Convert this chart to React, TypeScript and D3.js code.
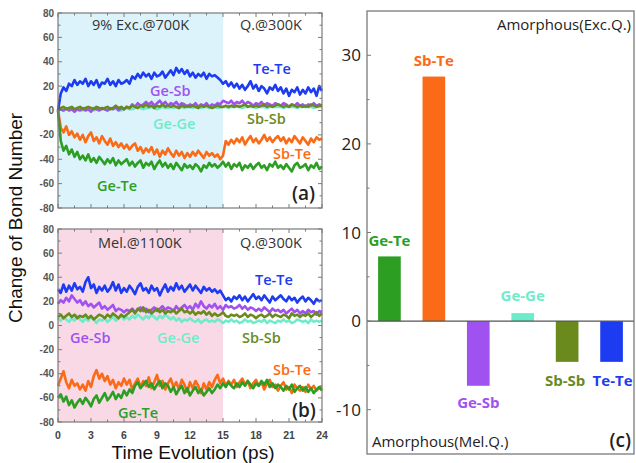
import React from "react";
import * as d3 from "d3";

const timeStep = 0.25;
const xTicks = [0, 3, 6, 9, 12, 15, 18, 21, 24];
const yTicksAB = [80, 60, 40, 20, 0, -20, -40, -60, -80];
const yTicksC = [30, 20, 10, 0, -10];

// Panel (a): 9% Exc.@700K then Q.@300K
const aTeTe = [0, 14, 19, 16, 22, 20, 25, 21, 24, 22, 26, 20, 24, 21, 25, 19, 23, 22, 26, 21, 24, 20, 25, 22, 23, 25, 22, 28, 26, 30, 27, 31, 28, 30, 26, 31, 28, 29, 32, 27, 30, 33, 29, 35, 31, 34, 30, 33, 28, 31, 27, 30, 28, 31, 26, 30, 28, 29, 27, 25, 22, 24, 20, 23, 19, 22, 18, 21, 17, 20, 24, 18, 21, 16, 20, 18, 14, 19, 17, 21, 16, 19, 14, 18, 12, 17, 15, 19, 13, 17, 14, 19, 15, 18, 12, 20, 16];
const aGeSb = [0, 1, 0, 2, 0, 1, -1, 1, 0, 2, 0, 1, -1, 2, 1, 0, 2, 1, 0, 2, 1, 3, 0, 2, 1, 3, 2, 5, 3, 6, 4, 5, 7, 5, 7, 4, 6, 8, 5, 7, 4, 6, 5, 7, 4, 6, 5, 3, 5, 4, 6, 3, 5, 4, 6, 3, 5, 4, 6, 5, 8, 7, 6, 8, 5, 7, 6, 8, 5, 7, 6, 4, 6, 5, 7, 4, 6, 5, 4, 6, 5, 4, 6, 5, 3, 5, 4, 6, 4, 5, 3, 5, 4, 6, 4, 5, 4];
const aSbSb = [0, 2, 3, 1, 2, 3, 1, 2, 3, 1, 2, 3, 2, 1, 3, 2, 1, 2, 3, 1, 2, 4, 2, 3, 1, 3, 2, 4, 3, 2, 4, 3, 5, 3, 4, 2, 4, 3, 5, 3, 4, 3, 4, 3, 2, 4, 3, 4, 3, 4, 3, 2, 4, 3, 4, 3, 2, 3, 4, 3, 3, 4, 3, 4, 3, 4, 3, 4, 5, 3, 4, 3, 4, 3, 4, 5, 3, 4, 3, 4, 5, 4, 3, 4, 3, 5, 4, 3, 4, 3, 4, 3, 5, 4, 3, 4, 4];
const aGeGe = [0, 1, 0, 1, 2, 1, 0, 1, 1, 0, 1, 2, 1, 0, 1, 1, 2, 1, 0, 1, 2, 1, 1, 0, 1, 2, 1, 1, 2, 3, 2, 1, 2, 2, 3, 2, 1, 2, 3, 2, 2, 3, 2, 3, 2, 3, 2, 3, 3, 2, 3, 3, 2, 3, 3, 2, 3, 3, 2, 3, 3, 3, 2, 3, 3, 3, 3, 2, 3, 3, 3, 3, 2, 3, 3, 3, 2, 3, 3, 3, 3, 3, 2, 3, 3, 3, 3, 2, 3, 3, 3, 3, 3, 2, 3, 3, 3];
const aSbTe = [0, -14, -18, -13, -20, -17, -22, -19, -24, -20, -26, -21, -18, -25, -22, -27, -21, -25, -28, -23, -29, -26, -30, -27, -31, -28, -32, -29, -27, -33, -30, -35, -31, -34, -30, -36, -32, -38, -33, -36, -31, -35, -38, -33, -37, -34, -39, -35, -38, -34, -37, -33, -36, -39, -34, -37, -35, -38, -36, -40, -37, -25, -28, -24, -27, -23, -26, -22, -28, -24, -21, -26, -23, -27, -24, -20, -25, -22, -26, -23, -21, -25, -22, -27, -23, -26, -21, -24, -27, -22, -25, -28, -23, -26, -22, -24, -23];
const aGeTe = [0, -25, -33, -29, -36, -32, -38, -34, -40, -37, -41, -36, -42, -39, -43, -38, -41, -44, -40, -43, -39, -45, -41, -44, -42, -40, -45, -42, -46, -43, -41, -47, -43, -45, -42, -48, -44, -41, -46, -43, -47, -44, -48, -43, -46, -49, -44, -47, -45, -48, -44, -46, -50, -45, -47, -43, -46, -44, -47, -45, -42, -46, -43, -48, -44, -46, -43, -49, -45, -47, -44, -48, -45, -43, -47, -45, -49, -44, -46, -42, -47, -45, -48, -44, -47, -50, -45, -43, -47, -46, -44, -49, -45, -47, -43, -48, -46];

// Panel (b): Mel.@1100K then Q.@300K
const bTeTe = [30, 27, 34, 28, 33, 29, 35, 30, 32, 28, 36, 40, 31, 34, 27, 32, 29, 33, 28, 31, 36, 29, 34, 27, 31, 28, 33, 30, 26, 32, 35, 29, 31, 27, 33, 29, 31, 25, 30, 34, 28, 32, 29, 35, 30, 33, 28, 31, 34, 29, 33, 30, 27, 32, 29, 31, 28, 30, 27, 29, 25, 21, 23, 20, 24, 22, 25, 21, 24, 20, 23, 26, 22, 24, 21, 25, 22, 19, 24, 21, 23, 25, 22, 20, 24, 21, 23, 19, 22, 24, 20, 23, 21, 18, 22, 20, 21];
const bGeSb = [18, 21, 19, 23, 20, 25, 22, 19, 21, 17, 20, 16, 18, 15, 17, 19, 14, 16, 13, 15, 17, 12, 14, 13, 11, 13, 12, 14, 11, 13, 15, 12, 14, 11, 13, 15, 12, 14, 16, 13, 15, 14, 12, 16, 13, 15, 17, 14, 16, 13, 18, 15, 20, 16, 14, 17, 15, 18, 14, 16, 13, 17, 15, 16, 14, 15, 17, 14, 16, 13, 15, 14, 12, 14, 12, 15, 13, 11, 14, 12, 13, 11, 13, 10, 12, 14, 11, 13, 10, 12, 10, 13, 11, 12, 9, 12, 11];
const bSbSb = [7, 9, 6, 8, 10, 7, 9, 6, 8, 7, 9, 6, 8, 5, 7, 9, 8, 6, 9, 7, 10, 8, 6, 9, 7, 9, 11, 13, 10, 14, 12, 15, 11, 13, 10, 12, 14, 11, 13, 10, 12, 11, 13, 10, 12, 14, 11, 12, 10, 12, 9, 11, 10, 12, 9, 11, 8, 10, 8, 9, 11, 8, 7, 9, 8, 9, 7, 8, 10, 7, 9, 8, 6, 8, 9, 7, 8, 10, 7, 9, 8, 7, 9, 8, 6, 10, 8, 9, 7, 9, 8, 10, 7, 9, 11, 8, 10];
const bGeGe = [6, 4, 7, 5, 3, 6, 4, 8, 5, 3, 6, 4, 7, 5, 2, 5, 4, 6, 3, 5, 7, 4, 6, 8, 5, 7, 5, 8, 6, 9, 7, 5, 8, 6, 9, 7, 5, 8, 6, 9, 7, 5, 7, 4, 6, 3, 5, 4, 6, 4, 3, 5, 2, 4, 5, 3, 4, 3, 5, 4, 2, 4, 3, 5, 3, 4, 2, 3, 5, 3, 4, 2, 3, 4, 3, 5, 2, 4, 3, 2, 4, 3, 5, 3, 4, 2, 3, 5, 4, 3, 4, 2, 5, 3, 4, 3, 4];
const bSbTe = [-50, -44, -38, -47, -52, -45, -50, -48, -53, -49, -54, -46, -51, -42, -37, -44, -40, -46, -42, -49, -45, -52, -47, -50, -44, -49, -45, -53, -48, -44, -51, -46, -50, -43, -52, -47, -41, -50, -46, -53, -48, -44, -51, -47, -53, -45, -49, -55, -47, -52, -46, -50, -56, -48, -53, -47, -51, -45, -41, -48, -44, -50, -46, -49, -45, -51, -47, -44, -49, -46, -52, -48, -45, -50, -47, -53, -48, -45, -51, -49, -54, -50, -47, -53, -51, -56, -49, -52, -54, -51, -55, -49, -53, -50, -54, -52, -51];
const bGeTe = [-60, -57, -63, -59, -66, -62, -68, -64, -61, -65, -60, -63, -67, -61, -58, -64, -60, -56, -62, -59, -55, -61, -57, -60, -54, -58, -53, -56, -50, -47, -52, -49, -46, -51, -48, -53, -49, -46, -52, -48, -50, -55, -51, -57, -53, -50, -56, -52, -58, -54, -51, -56, -53, -58, -55, -52, -56, -53, -49, -52, -48, -51, -47, -50, -52, -48, -51, -47, -50, -46, -49, -52, -48, -50, -46, -49, -45, -51, -48, -52, -49, -51, -54, -50, -53, -49, -55, -52, -50, -54, -51, -55, -52, -56, -53, -51, -54];

// Panel (c): bar values
const barCategories = ["Ge-Te", "Sb-Te", "Ge-Sb", "Ge-Ge", "Sb-Sb", "Te-Te"];
const barValues = [7.3, 27.6, -7.3, 0.9, -4.6, -4.6];

const colors: Record<string, string> = {
  "Te-Te": "#1d3cf2",
  "Ge-Sb": "#a052f0",
  "Ge-Ge": "#6eecc9",
  "Sb-Sb": "#6b8a1e",
  "Sb-Te": "#fb6a16",
  "Ge-Te": "#2c9f22",
};

type Series = { name: string; values: number[] };

const panelA: Series[] = [
  { name: "Ge-Ge", values: aGeGe },
  { name: "Ge-Sb", values: aGeSb },
  { name: "Sb-Sb", values: aSbSb },
  { name: "Te-Te", values: aTeTe },
  { name: "Sb-Te", values: aSbTe },
  { name: "Ge-Te", values: aGeTe },
];
const panelB: Series[] = [
  { name: "Ge-Ge", values: bGeGe },
  { name: "Ge-Sb", values: bGeSb },
  { name: "Sb-Sb", values: bSbSb },
  { name: "Te-Te", values: bTeTe },
  { name: "Sb-Te", values: bSbTe },
  { name: "Ge-Te", values: bGeTe },
];

const labelFont = "'Open Sans', 'Noto Sans', sans-serif";
const axisFont = "'Liberation Sans', Arial, sans-serif";
const frameColor = "#7a7a7a";

type LabelSpec = { text: string; x: number; y: number; color: string; size?: number; weight?: number };

function LinePanel({
  top,
  bottom,
  series,
  bg,
  labels,
  showXLabels,
}: {
  top: number;
  bottom: number;
  series: Series[];
  bg: string;
  labels: LabelSpec[];
  showXLabels: boolean;
}) {
  const left = 58;
  const right = 322;
  const x = d3.scaleLinear().domain([0, 24]).range([left, right]);
  const y = d3.scaleLinear().domain([-80, 80]).range([bottom, top]);
  const line = d3
    .line<number>()
    .x((_, i) => x(i * timeStep))
    .y((v) => y(v));
  const minorX = d3.range(1.5, 24, 3);
  const minorY = d3.range(-70, 80, 20);
  return (
    <g>
      <rect x={x(0)} y={top} width={x(15) - x(0)} height={bottom - top} fill={bg} />
      {series.map((s) => (
        <path
          key={s.name}
          d={line(s.values) || ""}
          fill="none"
          stroke={colors[s.name]}
          strokeWidth={2.6}
          strokeLinejoin="round"
        />
      ))}
      <rect x={left} y={top} width={right - left} height={bottom - top} fill="none" stroke={frameColor} strokeWidth={1.2} />
      {xTicks.map((t) => (
        <g key={"xt" + t}>
          <line x1={x(t)} x2={x(t)} y1={bottom} y2={bottom - 4} stroke={frameColor} />
          <line x1={x(t)} x2={x(t)} y1={top} y2={top + 4} stroke={frameColor} />
          {showXLabels && (
            <text x={x(t)} y={bottom + 17} textAnchor="middle" fontSize={10.5} fontWeight={700} fill="#444" fontFamily={axisFont}>
              {t}
            </text>
          )}
        </g>
      ))}
      {minorX.map((t) => (
        <g key={"mx" + t}>
          <line x1={x(t)} x2={x(t)} y1={bottom} y2={bottom - 2.5} stroke={frameColor} />
          <line x1={x(t)} x2={x(t)} y1={top} y2={top + 2.5} stroke={frameColor} />
        </g>
      ))}
      {yTicksAB.map((t) => (
        <g key={"yt" + t}>
          <line x1={left} x2={left + 4} y1={y(t)} y2={y(t)} stroke={frameColor} />
          <line x1={right} x2={right - 4} y1={y(t)} y2={y(t)} stroke={frameColor} />
          <text x={left - 4} y={y(t) + 3.5} textAnchor="end" fontSize={10} fontWeight={700} fill="#555" fontFamily={axisFont}>
            {t}
          </text>
        </g>
      ))}
      {minorY.map((t) => (
        <g key={"my" + t}>
          <line x1={left} x2={left + 2.5} y1={y(t)} y2={y(t)} stroke={frameColor} />
          <line x1={right} x2={right - 2.5} y1={y(t)} y2={y(t)} stroke={frameColor} />
        </g>
      ))}
      {labels.map((l, i) => (
        <text
          key={i}
          x={l.x}
          y={l.y}
          fontSize={l.size || 14.5}
          fontWeight={l.weight || 600}
          fill={l.color}
          fontFamily={labelFont}
        >
          {l.text}
        </text>
      ))}
    </g>
  );
}

function BarPanel() {
  const left = 367;
  const right = 634;
  const top = 11;
  const bottom = 454;
  const x = d3.scaleBand<string>().domain(barCategories).range([left, right]).paddingInner(0.49).paddingOuter(0.25);
  const y = d3.scaleLinear().domain([-15, 35]).range([bottom, top]);
  const minor = [25, 15, 5, -5];
  const catLabels: Record<string, { dx: number; y: number }> = {
    "Ge-Te": { dx: 0, y: 246 },
    "Sb-Te": { dx: 0, y: 66 },
    "Ge-Sb": { dx: 0, y: 408 },
    "Ge-Ge": { dx: 0, y: 301 },
    "Sb-Sb": { dx: -2, y: 386 },
    "Te-Te": { dx: 1, y: 386 },
  };
  return (
    <g>
      {barCategories.map((c, i) => {
        const v = barValues[i];
        return (
          <rect
            key={c}
            x={x(c)}
            width={x.bandwidth()}
            y={y(Math.max(0, v))}
            height={Math.abs(y(v) - y(0))}
            fill={colors[c]}
          />
        );
      })}
      <line x1={left} x2={right} y1={y(0)} y2={y(0)} stroke="#555" strokeWidth={1.2} />
      <rect x={left} y={top} width={right - left} height={bottom - top} fill="none" stroke={frameColor} strokeWidth={1.3} />
      {yTicksC.map((t) => (
        <g key={t}>
          <line x1={left} x2={left + 4} y1={y(t)} y2={y(t)} stroke={frameColor} />
          <text x={left - 6} y={y(t) + 6} textAnchor="end" fontSize={17} fill="#222" fontFamily={labelFont}>
            {t}
          </text>
        </g>
      ))}
      {minor.map((t) => (
        <line key={"m" + t} x1={left} x2={left + 2.5} y1={y(t)} y2={y(t)} stroke={frameColor} />
      ))}
      {barCategories.map((c) => (
        <text
          key={"l" + c}
          x={(x(c) || 0) + x.bandwidth() / 2 + catLabels[c].dx}
          y={catLabels[c].y}
          textAnchor="middle"
          fontSize={15}
          fontWeight={700}
          fill={colors[c]}
          fontFamily={labelFont}
        >
          {c}
        </text>
      ))}
      <text x={631} y={30} textAnchor="end" fontSize={15} fill="#222" fontFamily={labelFont}>
        Amorphous(Exc.Q.)
      </text>
      <text x={372} y={447} fontSize={15} fill="#222" fontFamily={labelFont}>
        Amorphous(Mel.Q.)
      </text>
      <text x={631} y={447} textAnchor="end" fontSize={19} fontWeight={600} fill="#222" fontFamily={labelFont}>
        (c)
      </text>
    </g>
  );
}

const labelsA: LabelSpec[] = [
  { text: "9% Exc.@700K", x: 92, y: 30, color: "#333", weight: 400 },
  { text: "Q.@300K", x: 240, y: 30, color: "#333", weight: 400 },
  { text: "Te-Te", x: 253, y: 74, color: colors["Te-Te"] },
  { text: "Ge-Sb", x: 150, y: 96, color: colors["Ge-Sb"] },
  { text: "Ge-Ge", x: 153, y: 129, color: colors["Ge-Ge"] },
  { text: "Sb-Sb", x: 247, y: 124, color: colors["Sb-Sb"] },
  { text: "Sb-Te", x: 273, y: 159, color: colors["Sb-Te"] },
  { text: "Ge-Te", x: 97, y: 191, color: colors["Ge-Te"] },
  { text: "(a)", x: 292, y: 200, color: "#222", size: 19 },
];
const labelsB: LabelSpec[] = [
  { text: "Mel.@1100K", x: 98, y: 248, color: "#333", weight: 400 },
  { text: "Q.@300K", x: 240, y: 248, color: "#333", weight: 400 },
  { text: "Te-Te", x: 255, y: 285, color: colors["Te-Te"] },
  { text: "Ge-Sb", x: 70, y: 343, color: colors["Ge-Sb"] },
  { text: "Ge-Ge", x: 157, y: 343, color: colors["Ge-Ge"] },
  { text: "Sb-Sb", x: 242, y: 343, color: colors["Sb-Sb"] },
  { text: "Sb-Te", x: 273, y: 375, color: colors["Sb-Te"] },
  { text: "Ge-Te", x: 118, y: 418, color: colors["Ge-Te"] },
  { text: "(b)", x: 292, y: 417, color: "#222", size: 19 },
];

export default function App() {
  return (
    <svg width={636} height={463} style={{ position: "absolute", left: 0, top: 0, background: "#fff" }}>
      <LinePanel top={13} bottom={208} series={panelA} bg="#dcf3fb" labels={labelsA} showXLabels={false} />
      <LinePanel top={229} bottom={422} series={panelB} bg="#f9d9e6" labels={labelsB} showXLabels={true} />
      <BarPanel />
      <text
        transform="translate(22,218) rotate(-90)"
        textAnchor="middle"
        fontSize={19}
        fill="#111"
        fontFamily={axisFont}
      >
        Change of Bond Number
      </text>
      <text x={193} y={459} textAnchor="middle" fontSize={19} fill="#111" fontFamily={axisFont}>
        Time Evolution (ps)
      </text>
    </svg>
  );
}
